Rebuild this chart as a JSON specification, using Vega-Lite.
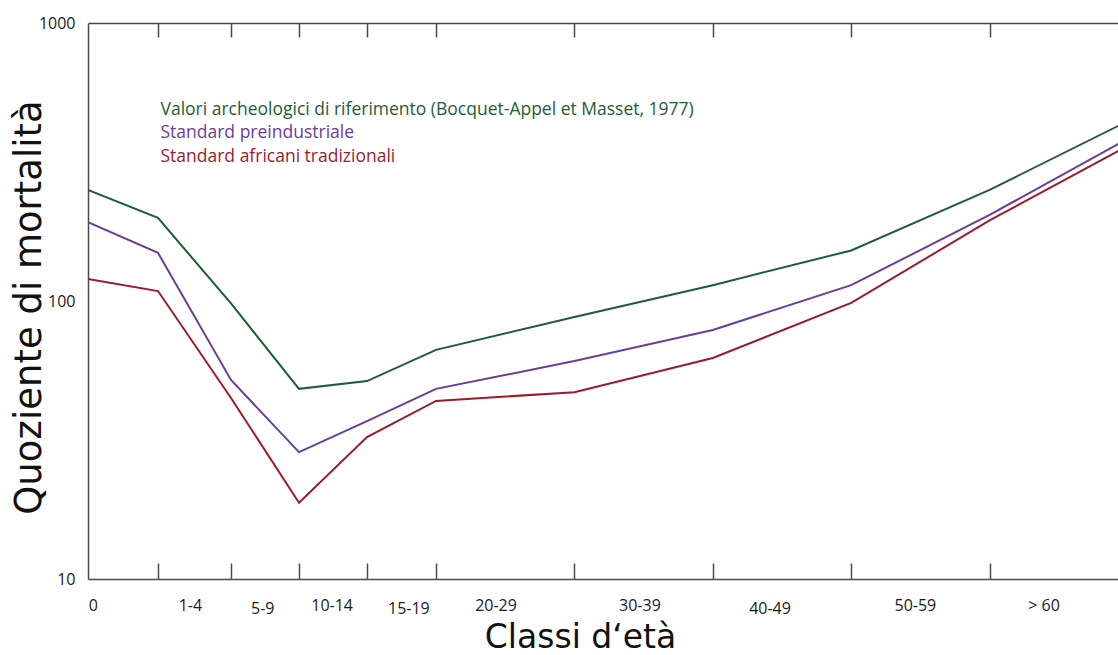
{
  "$schema": "https://vega.github.io/schema/vega-lite/v6.json",
  "width": 1030,
  "height": 556,
  "autosize": {"type": "none"},
  "padding": {"left": 88, "top": 23, "right": 0, "bottom": 76},
  "background": "white",
  "config": {"view": {"stroke": null}},
  "data": {
    "values": [
      {"age": 0, "serie": "Valori archeologici di riferimento (Bocquet-Appel et Masset, 1977)", "q": 251},
      {"age": 1, "serie": "Valori archeologici di riferimento (Bocquet-Appel et Masset, 1977)", "q": 199},
      {"age": 5, "serie": "Valori archeologici di riferimento (Bocquet-Appel et Masset, 1977)", "q": 98},
      {"age": 10, "serie": "Valori archeologici di riferimento (Bocquet-Appel et Masset, 1977)", "q": 48.3},
      {"age": 15, "serie": "Valori archeologici di riferimento (Bocquet-Appel et Masset, 1977)", "q": 51.5},
      {"age": 20, "serie": "Valori archeologici di riferimento (Bocquet-Appel et Masset, 1977)", "q": 66.7},
      {"age": 30, "serie": "Valori archeologici di riferimento (Bocquet-Appel et Masset, 1977)", "q": 87.6},
      {"age": 40, "serie": "Valori archeologici di riferimento (Bocquet-Appel et Masset, 1977)", "q": 114},
      {"age": 50, "serie": "Valori archeologici di riferimento (Bocquet-Appel et Masset, 1977)", "q": 152},
      {"age": 60, "serie": "Valori archeologici di riferimento (Bocquet-Appel et Masset, 1977)", "q": 251},
      {"age": 70, "serie": "Valori archeologici di riferimento (Bocquet-Appel et Masset, 1977)", "q": 444},
      {"age": 0, "serie": "Standard preindustriale", "q": 192},
      {"age": 1, "serie": "Standard preindustriale", "q": 149},
      {"age": 5, "serie": "Standard preindustriale", "q": 52},
      {"age": 10, "serie": "Standard preindustriale", "q": 28.6},
      {"age": 15, "serie": "Standard preindustriale", "q": 37},
      {"age": 20, "serie": "Standard preindustriale", "q": 48.3},
      {"age": 30, "serie": "Standard preindustriale", "q": 60.8},
      {"age": 40, "serie": "Standard preindustriale", "q": 78.7},
      {"age": 50, "serie": "Standard preindustriale", "q": 114},
      {"age": 60, "serie": "Standard preindustriale", "q": 204},
      {"age": 70, "serie": "Standard preindustriale", "q": 384},
      {"age": 0, "serie": "Standard africani tradizionali", "q": 120},
      {"age": 1, "serie": "Standard africani tradizionali", "q": 108.6},
      {"age": 5, "serie": "Standard africani tradizionali", "q": 44.8},
      {"age": 10, "serie": "Standard africani tradizionali", "q": 18.8},
      {"age": 15, "serie": "Standard africani tradizionali", "q": 32.4},
      {"age": 20, "serie": "Standard africani tradizionali", "q": 43.7},
      {"age": 30, "serie": "Standard africani tradizionali", "q": 47},
      {"age": 40, "serie": "Standard africani tradizionali", "q": 62.4},
      {"age": 50, "serie": "Standard africani tradizionali", "q": 98.4},
      {"age": 60, "serie": "Standard africani tradizionali", "q": 195},
      {"age": 70, "serie": "Standard africani tradizionali", "q": 362}
    ]
  },
  "layer": [
    {
      "mark": {"type": "line", "strokeWidth": 2, "clip": true},
      "encoding": {
        "x": {
          "field": "age",
          "type": "quantitative",
          "scale": {"domain": [0, 1, 5, 10, 15, 20, 70], "range": [0, 70, 143, 211, 279, 348, 1040], "nice": false, "zero": false},
          "axis": {
            "orient": "bottom",
            "values": [1, 5, 10, 15, 20, 30, 40, 50, 60, 0.07, 2.75, 7.3, 12.4, 18, 24.3, 34.7, 44.1, 54.6, 63.9],
            "labelExpr": "datum.value == 0.07 ? '0' : datum.value == 2.75 ? '1-4' : datum.value == 7.3 ? '5-9' : datum.value == 12.4 ? '10-14' : datum.value == 18 ? '15-19' : datum.value == 24.3 ? '20-29' : datum.value == 34.7 ? '30-39' : datum.value == 44.1 ? '40-49' : datum.value == 54.6 ? '50-59' : datum.value == 63.9 ? '> 60' : ''",
            "labelOverlap": false,
            "labelFlush": false,
            "labelFont": "Open Sans",
            "labelFontSize": 16,
            "labelColor": "#1a1a1a",
            "labelPadding": {"condition": {"test": "datum.value == 7.3 || datum.value == 18 || datum.value == 44.1", "value": 37}, "value": 34},
            "tickSize": -16,
            "tickWidth": 1.5,
            "tickColor": "#4a4a4a",
            "tickOpacity": {"condition": {"test": "indexof([1, 5, 10, 15, 20, 30, 40, 50, 60], datum.value) < 0", "value": 0}, "value": 1},
            "domainColor": "#4a4a4a",
            "domainWidth": 1.5,
            "grid": false,
            "title": "Classi d‘età",
            "titleFont": "DejaVu Sans",
            "titleFontSize": 33,
            "titleFontWeight": "normal",
            "titleColor": "#111111",
            "titleX": 492,
            "titleY": 68,
            "titleBaseline": "alphabetic",
            "titleAlign": "center"
          }
        },
        "y": {
          "field": "q",
          "type": "quantitative",
          "scale": {"type": "log", "domain": [10, 1000], "nice": false},
          "axis": {
            "values": [10, 100, 1000],
            "format": "d",
            "ticks": false,
            "grid": false,
            "labelFont": "Open Sans",
            "labelFontSize": 16,
            "labelColor": "#1a1a1a",
            "labelPadding": 13,
            "domainColor": "#4a4a4a",
            "domainWidth": 1.5,
            "title": "Quoziente di mortalità",
            "titleFont": "DejaVu Sans",
            "titleFontSize": 37,
            "titleFontWeight": "normal",
            "titleColor": "#111111",
            "titleX": -48,
            "titleY": 284,
            "titleBaseline": "alphabetic",
            "titleAlign": "center",
            "titleAngle": -90
          }
        },
        "color": {
          "field": "serie",
          "type": "nominal",
          "scale": {
            "domain": ["Valori archeologici di riferimento (Bocquet-Appel et Masset, 1977)", "Standard preindustriale", "Standard africani tradizionali"],
            "range": ["#1c5e37", "#6a3d96", "#9c1b2b"]
          },
          "legend": {
            "orient": "none",
            "legendX": 55,
            "legendY": 78,
            "title": null,
            "padding": 0,
            "symbolSize": 0,
            "symbolStrokeWidth": 0,
            "symbolOpacity": 0,
            "labelOffset": 0,
            "labelFont": "Open Sans",
            "labelFontSize": 17.5,
            "labelLimit": 1000,
            "rowPadding": 4.5,
            "encode": {"labels": {"update": {"fill": {"scale": "color", "field": "value"}}}}
          }
        }
      }
    },
    {
      "mark": {"type": "line", "opacity": 0, "clip": true},
      "encoding": {
        "x": {
          "field": "age",
          "type": "quantitative",
          "axis": {
            "orient": "top",
            "values": [1, 5, 10, 15, 20, 30, 40, 50, 60],
            "labels": false,
            "tickSize": -14,
            "tickWidth": 1.5,
            "tickColor": "#4a4a4a",
            "domainColor": "#4a4a4a",
            "domainWidth": 1.5,
            "grid": false,
            "title": null
          }
        },
        "y": {
          "field": "q",
          "type": "quantitative",
          "scale": {"type": "log", "domain": [10, 1000], "nice": false},
          "axis": {
            "values": [10, 100, 1000],
            "format": "d",
            "ticks": false,
            "grid": false,
            "labelFont": "Open Sans",
            "labelFontSize": 16,
            "labelColor": "#1a1a1a",
            "labelPadding": 13,
            "domainColor": "#4a4a4a",
            "domainWidth": 1.5,
            "title": "Quoziente di mortalità",
            "titleFont": "DejaVu Sans",
            "titleFontSize": 37,
            "titleFontWeight": "normal",
            "titleColor": "#111111",
            "titleX": -48,
            "titleY": 284,
            "titleBaseline": "alphabetic",
            "titleAlign": "center",
            "titleAngle": -90
          }
        },
        "detail": {"field": "serie"}
      }
    }
  ],
  "resolve": {"axis": {"x": "independent"}}
}
